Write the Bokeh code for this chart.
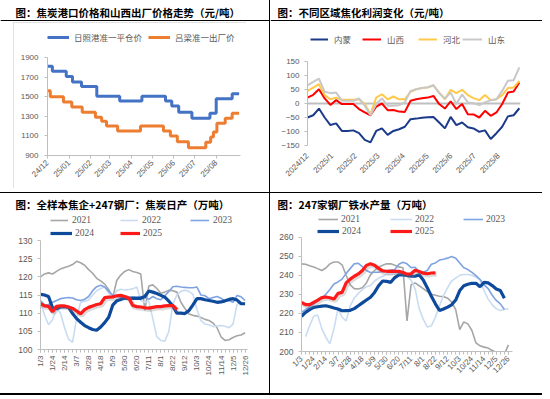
import math
import numpy as np
import pandas as pd
from bokeh.plotting import figure
from bokeh.models import FixedTicker, Legend, LegendItem, Span, Div, ColumnDataSource
from bokeh.layouts import row, column
from bokeh.transform import dodge
from bokeh.core.properties import value
from bokeh.embed import file_html
from bokeh.resources import INLINE

NAN = float("nan")

# ---------------- Chart 1: coke port price & Shanxi ex-factory price ----------------
price_base = "2024-12-01"
rizhao_dates = ["2024-12-01", "2024-12-08", "2024-12-28", "2025-01-06", "2025-01-19",
                "2025-02-10", "2025-03-15", "2025-04-16", "2025-05-20", "2025-05-29",
                "2025-06-08", "2025-06-27", "2025-07-23", "2025-08-01", "2025-08-24",
                "2025-09-03"]
rizhao_price = [1810, 1760, 1705, 1650, 1605, 1505, 1455, 1505, 1455, 1405,
                1340, 1280, 1330, 1480, 1530, 1530]
lvliang_dates = ["2024-12-01", "2024-12-05", "2024-12-24", "2025-01-05", "2025-01-20",
                 "2025-02-08", "2025-02-17", "2025-02-24", "2025-03-12", "2025-04-14",
                 "2025-05-17", "2025-05-27", "2025-06-06", "2025-06-22", "2025-07-17",
                 "2025-07-24", "2025-07-28", "2025-08-02", "2025-08-14", "2025-08-24",
                 "2025-09-03"]
lvliang_price = [1560, 1500, 1445, 1395, 1340, 1290, 1250, 1200, 1150, 1200,
                 1150, 1100, 1040, 980, 1035, 1090, 1140, 1230, 1280, 1330, 1330]
price_tick_dates = ["2024-12-01", "2025-01-01", "2025-02-01", "2025-03-01", "2025-04-01",
                    "2025-05-01", "2025-06-01", "2025-07-01", "2025-08-01"]
price_tick_labels = ["24/12", "25/01", "25/02", "25/03", "25/04", "25/05", "25/06", "25/07", "25/08"]
price_yticks = [900, 1100, 1300, 1500, 1700, 1900]

# ---------------- Chart 2: coking profit by region (weekly) ----------------
profit_neimeng = [-50, -42, -18, -50, -77, -71, -98, -98, -96, -106, -130, -139, -98, -89, -112,
                  -98, -92, -83, -56, -54, -51, -49, -48, -68, -89, -48, -77, -68, -85, -89,
                  -101, -96, -127, -106, -83, -46, -42, -17]
profit_shanxi = [21, 31, 51, 18, -5, 12, -2, -2, -2, -20, -32, -42, -11, 0, -24, -23, -29, -30,
                 10, 15, 19, 21, 27, -2, -18, 8, -20, -2, -38, -39, -50, -26, -44, -32, -2, 39, 43, 75]
profit_hebei = [45, 57, 69, 30, 15, 21, 13, 13, 13, 15, -2, -38, 21, 33, 15, 25, 15, 15, 42, 51,
                55, 57, 65, 39, 15, 49, 37, 49, 30, 19, 12, 30, 12, 15, 30, 55, 57, 81]
profit_shandong = [65, 77, 89, 42, 37, 39, 10, 10, 10, 18, -8, -42, -2, 18, -8, -8, -6, 4, 45, 51,
                   55, 58, 65, 37, 18, 39, -2, 33, 4, 1, -6, 4, 12, 15, 45, 81, 83, 129]
profit_tick_pos = [0, 4.3, 8.4, 12.4, 16.8, 21.0, 25.1, 29.2, 33.4]
profit_tick_labels = ["2024/12", "2025/1", "2025/2", "2025/3", "2025/4", "2025/5", "2025/6",
                      "2025/7", "2025/8"]
profit_yticks = [-150, -100, -50, 0, 50, 100, 150]

# ---------------- Chart 3: coke daily output (weekly, 10k t) ----------------
week_tick_pos = [0, 3, 6, 9, 12, 15, 18, 21, 24, 27, 30, 33, 36, 39, 42, 45, 48, 51]
week_tick_labels = ["1/3", "1/24", "2/14", "3/7", "3/28", "4/18", "5/9", "5/30", "6/20", "7/11",
                    "8/1", "8/22", "9/12", "10/3", "10/24", "11/14", "12/5", "12/26"]
coke_2021 = [120.0, 120.8, 121.1, 120.8, 121.5, 122.2, 122.6, 122.9, 123.4, 124.3,
             123.9, 123.2, 122.0, 121.0, 119.6, 118.9, 118.0, 116.5, 114.3, 119.0,
             120.5, 121.5, 122.0, 121.5, 121.2, 120.8, 110.8, 117.5, 117.8, 116.8,
             115.5, 115.8, 116.3, 116.2, 115.8, 113.0, 111.3, 109.8, 109.4, 109.2,
             108.8, 108.3, 108.0, 107.3, 106.0, 103.5, 102.5, 102.7, 103.3, 103.8,
             104.0, 104.6]
coke_2022 = [113.0, 109.5, 106.8, 108.2, 111.5, 110.0, 106.0, 102.8, 102.0, 108.5,
             113.0, 113.2, 113.6, 115.0, 116.2, 116.8, 117.2, 115.5, 114.2, 116.2,
             116.6, 116.4, 116.5, 116.7, 117.2, 113.5, 113.0, 113.3, 108.5, 103.5,
             102.5, 102.3, 105.0, 112.5, 115.0, 116.0, 116.3, 116.0, 115.2, 111.0,
             108.0, 107.0, 106.8, 106.3, 106.5, 106.6, 106.4, 106.0, 107.0, 112.5,
             113.0, 112.6]
coke_2023 = [113.5, 112.3, 112.4, 113.0, 113.5, 114.0, 114.2, 114.3, 114.2, 113.7,
             113.5, 113.8, 114.6, 116.2, 117.3, 117.7, 117.2, 116.0, 115.0, 114.6,
             114.4, 114.4, 114.3, 114.5, 114.4, 114.6, 114.3, 113.8, 114.6, 114.0,
             113.7, 114.8, 116.0, 117.3, 117.4, 117.2, 117.1, 117.0, 117.0, 117.2,
             115.0, 114.8, 114.0, 114.3, 114.6, 114.1, 113.4, 113.5, 113.0, 114.9,
             114.5, 113.5]
coke_2024 = [115.2, 115.0, 114.6, 111.5, 111.2, 111.7, 111.8, 111.6, 109.9, 108.5,
             107.5, 106.6, 106.0, 105.5, 105.3, 106.2, 107.4, 108.9, 112.2, 113.4,
             113.8, 114.1, 114.1, 114.1, 114.1, 114.1, 114.6, 116.1, 115.8, 115.4,
             114.9, 114.4, 113.3, 112.0, 110.0, 110.0, 109.9, 110.7, 112.3, 114.0,
             114.0, 113.7, 113.5, 113.3, 113.0, 113.1, 113.4, 113.8, 114.0, 113.6,
             112.6, 112.6]
coke_2025 = [112.6, 112.0, 111.9, 110.4, 111.9, 112.0, 112.0, 111.7, 111.3, 110.6,
             109.8, 111.0, 111.6, 112.0, 112.4, 112.6, 114.3, 114.4, 114.5, 114.8,
             114.9, 114.6, 114.2, 112.1, 111.8, 111.7, 111.5, 111.4, 111.6, 111.8,
             111.8, 112.0, 112.1, 112.1, 111.0]
coke_yticks = [100, 105, 110, 115, 120, 125, 130]

# ---------------- Chart 4: hot metal output of 247 mills (weekly, 10k t) ----------------
iron_2021 = [246.0, 245.8, 245.0, 244.4, 243.5, 242.5, 243.8, 246.0, 247.0, 247.0,
             245.5, 240.0, 235.0, 233.0, 232.8, 233.5, 236.0, 240.2, 242.5, 244.4,
             245.3, 246.0, 246.0, 245.3, 244.4, 244.0, 216.0, 235.0, 236.0, 234.5,
             233.0, 231.5, 230.0, 229.5, 229.0, 228.8, 228.0, 226.0, 222.0, 211.5,
             215.5, 214.5, 211.0, 204.5, 203.0, 202.3, 201.8, 200.5, 199.6, 198.0,
             198.5, 203.5]
iron_2022 = [NAN, 207.8, 213.5, 218.5, 219.2, 212.0, 207.5, 204.0, 212.0, 222.5,
             218.0, 216.0, 224.0, 228.0, 230.5, 232.5, 234.0, 234.6, 237.0, 238.5,
             239.5, 240.4, 240.4, 240.6, 241.2, 240.5, 239.5, 237.5, 233.0, 222.5,
             217.0, 212.8, 213.5, 218.0, 224.0, 229.5, 233.5, 237.0, 238.5, 240.0,
             240.4, 240.4, 240.0, 239.0, 237.5, 232.0, 227.5, 224.5, 222.5, 221.5,
             222.0, 222.6]
iron_2023 = [220.5, 222.0, 223.5, 225.0, 226.5, 228.0, 230.0, 232.5, 235.4, 236.5,
             238.0, 241.0, 243.5, 246.0, 246.3, 244.5, 242.5, 241.5, 241.6, 241.6,
             242.0, 242.3, 242.8, 243.0, 245.8, 246.8, 246.0, 244.0, 244.2, 241.8,
             241.6, 242.5, 245.8, 246.5, 248.0, 248.4, 249.0, 249.8, 249.0, 246.5,
             243.9, 243.0, 241.5, 239.8, 237.8, 235.0, 233.0, 229.5, 226.8, 225.0,
             222.0]
iron_2024 = [218.5, 220.5, 222.0, 223.2, 223.5, 223.8, 224.0, 223.5, 222.8, 222.3,
             221.4, 221.5, 221.6, 222.5, 224.0, 225.5, 227.0, 228.5, 231.0, 234.5,
             237.0, 236.8, 236.3, 238.8, 240.2, 240.2, 239.9, 239.6, 239.5, 240.3,
             237.5, 233.5, 229.0, 225.0, 221.5, 222.3, 223.3, 224.5, 227.0, 232.0,
             234.5, 235.3, 235.8, 235.8, 234.0, 236.3, 236.0, 234.6, 232.8, 232.0,
             228.0]
iron_2025 = [225.8, 224.6, 224.6, 225.8, 227.0, 228.3, 228.6, 228.2, 227.5, 230.5,
             231.0, 236.0, 238.0, 239.5, 240.7, 242.5, 245.2, 246.0, 245.3, 243.6,
             242.3, 242.1, 242.0, 242.0, 242.1, 241.5, 240.6, 240.8, 242.6, 242.0,
             241.1, 240.8, 241.2, 241.3]
iron_yticks = [200, 210, 220, 230, 240, 250, 260]

# ---------------- styling ----------------
CJK = "Noto Sans CJK SC"
SANS = "Liberation Sans"
SERIF = "Liberation Serif"
AXIS_GRAY = "#BFBFBF"
LABEL_GRAY = "#595959"

C_2021 = "#A6A6A6"
C_2022 = "#C9DCF2"
C_2023 = "#7FA3E2"
C_2024 = "#0E4A9C"
C_2025 = "#FF1A1A"

W_L, W_R = 269, 272
H_T1, H_C1, H_T2, H_C2 = 21, 171, 19, 181


def strip(w, h, text, tx, ty, line):
    p = figure(width=w, height=h, x_range=(0, w), y_range=(0, h), x_axis_type=None,
               y_axis_type=None, toolbar_location=None, output_backend="svg", title=None,
               min_border=0, frame_align=False)
    p.outline_line_color = None
    p.text(x=[tx], y=[ty], text=[text], text_font=value(CJK), text_font_style="bold",
           text_font_size="10.5px", text_color="#000000", text_baseline="middle",
           text_align="left")
    if line:
        p.add_layout(Span(location=0.75, dimension="width", line_color="#000000", line_width=1.5))
    return p


def bar(w, h):
    return Div(text="", width=w, height=h, margin=0, styles={"background-color": "#000000"})


def chart(w, h, xr, yr, left, right, top, bottom, ybounds, **kw):
    p = figure(width=w, height=h, x_range=xr, y_range=yr, toolbar_location=None,
               output_backend="svg", title=None, frame_align=False,
               min_border_left=left, min_border_right=right,
               min_border_top=top, min_border_bottom=bottom, **kw)
    p.outline_line_color = None
    p.grid.visible = False
    for ax in p.axis:
        ax.axis_line_color = AXIS_GRAY
        ax.major_tick_line_color = AXIS_GRAY
        ax.minor_tick_line_color = AXIS_GRAY
        ax.major_tick_in = 0
        ax.major_tick_out = 3
        ax.minor_tick_in = 0
        ax.minor_tick_out = 0
        ax.major_label_text_font = SANS
        ax.major_label_text_font_size = "8px"
        ax.major_label_text_color = LABEL_GRAY
        ax.major_label_standoff = 4
    p.yaxis.bounds = ybounds
    return p


def add_key(p, r, label, x, y, gw, font, size, standoff=5):
    lg = Legend(items=[LegendItem(label=label, renderers=[r])], location=(x, y),
                orientation="horizontal", glyph_width=gw, glyph_height=10, label_height=10,
                label_standoff=standoff, padding=0, margin=0, spacing=0,
                border_line_color=None, background_fill_alpha=0,
                label_text_font=font, label_text_font_size=size, label_text_color=LABEL_GRAY)
    p.add_layout(lg)


def days(dates):
    base = pd.Timestamp(price_base)
    return [(pd.Timestamp(d) - base).days for d in dates]


# ---------------- Chart 1 (inside a light grey chart box) ----------------
p1 = chart(233, 166, (0, 278), (900, 2165), 34, 6, 9, 33, (900, 1900),
           margin=(1, 23, 4, 13),
           styles={"outline": "1px solid #D9D9D9", "outline-offset": "-1px"})
tick_days = days(price_tick_dates)
p1.xaxis.ticker = FixedTicker(ticks=tick_days)
p1.xaxis.major_label_overrides = {d: l for d, l in zip(tick_days, price_tick_labels)}
p1.xaxis.major_label_orientation = math.pi / 4
p1.xaxis.major_label_standoff = 3
p1.yaxis.ticker = FixedTicker(ticks=price_yticks)
p1.yaxis.major_label_standoff = 6
r_rz = p1.step(days(rizhao_dates), rizhao_price, mode="after", line_color="#4472C4", line_width=3)
r_lv = p1.step(days(lvliang_dates), lvliang_price, mode="after", line_color="#ED7D31", line_width=3)
add_key(p1, r_rz, "日照港准一平仓价", 0, 112, 22, CJK, "8.5px")
add_key(p1, r_lv, "吕梁准一出厂价", 101, 112, 22, CJK, "8.5px")

# ---------------- Chart 2 ----------------
weeks2 = list(range(len(profit_neimeng)))
p2 = chart(W_R, H_C1, (0, 37.2), (-150, 246.4), 37, 22, 13, 47, (-150, 150))
p2.add_layout(Span(location=0, dimension="width", line_color=AXIS_GRAY, line_width=2, level="underlay"))
p2.xaxis.ticker = FixedTicker(ticks=profit_tick_pos)
p2.xaxis.major_label_overrides = {t: l for t, l in zip(profit_tick_pos, profit_tick_labels)}
p2.xaxis.major_label_orientation = math.pi / 4
p2.xaxis.axis_line_color = None
p2.xaxis.major_tick_line_color = None
p2.xaxis.major_label_standoff = 6
p2.yaxis.ticker = FixedTicker(ticks=profit_yticks)
p2.yaxis.major_label_standoff = 5
r_nm = p2.line(weeks2, profit_neimeng, line_color="#1B3A8A", line_width=2)
r_sx = p2.line(weeks2, profit_shanxi, line_color="#FF0000", line_width=2)
r_hb = p2.line(weeks2, profit_hebei, line_color="#FFC94A", line_width=2)
r_sd = p2.line(weeks2, profit_shandong, line_color="#C8C8C8", line_width=2)
add_key(p2, r_nm, "内蒙", 3, 100, 18, CJK, "8.5px", 6)
add_key(p2, r_sx, "山西", 55, 100, 19, CJK, "8.5px", 6)
add_key(p2, r_hb, "河北", 111, 100, 19, CJK, "8.5px", 6)
add_key(p2, r_sd, "山东", 155, 100, 20, CJK, "8.5px", 6)


def weekly(p, series, color, width, shadow=False, span=30.0):
    src = ColumnDataSource(dict(w=list(range(len(series))), v=series))
    if shadow:
        p.line(x=dodge("w", 0.3, range=p.x_range), y=dodge("v", -span * 0.012, range=p.y_range),
               source=src, line_color="#7F7F7F", line_alpha=0.28, line_width=5)
    return p.line("w", "v", source=src, line_color=color, line_width=width)


def week_axis(p, orient):
    p.xaxis.ticker = FixedTicker(ticks=week_tick_pos, minor_ticks=list(range(52)))
    p.xaxis.major_label_overrides = {t: l for t, l in zip(week_tick_pos, week_tick_labels)}
    p.xaxis.major_label_orientation = orient
    p.xaxis.minor_tick_out = 3
    p.xaxis.major_label_standoff = 3


# ---------------- Chart 3 ----------------
p3 = chart(W_L, H_C2, (0, 51.6), (100, 136.9), 40, 22, 3, 44, (100, 130))
week_axis(p3, math.pi / 2)
p3.yaxis.ticker = FixedTicker(ticks=coke_yticks)
p3.yaxis.major_label_text_font_size = "8.5px"
p3.yaxis.major_label_standoff = 5
c21 = weekly(p3, coke_2021, C_2021, 1.6)
c22 = weekly(p3, coke_2022, C_2022, 1.6)
c23 = weekly(p3, coke_2023, C_2023, 1.6)
c24 = weekly(p3, coke_2024, C_2024, 3.2)
c25 = weekly(p3, coke_2025, C_2025, 3.2, shadow=True, span=30.0)
add_key(p3, c21, "2021", 10, 124, 18, SERIF, "9.5px", 4)
add_key(p3, c22, "2022", 80, 124, 18, SERIF, "9.5px", 4)
add_key(p3, c23, "2023", 150, 124, 19, SERIF, "9.5px", 4)
add_key(p3, c24, "2024", 10, 111, 22, SERIF, "9.5px", 3)
add_key(p3, c25, "2025", 80, 111, 20, SERIF, "9.5px", 3)

# ---------------- Chart 4 ----------------
p4 = chart(W_R, H_C2, (0, 52), (200, 271.9), 31, 30, 2, 42, (200, 260))
week_axis(p4, math.pi / 4)
p4.yaxis.ticker = FixedTicker(ticks=iron_yticks)
p4.yaxis.major_label_text_font_size = "8.5px"
p4.yaxis.major_label_standoff = 5
i21 = weekly(p4, iron_2021, C_2021, 1.6)
i22 = weekly(p4, iron_2022, C_2022, 1.6)
i23 = weekly(p4, iron_2023, C_2023, 1.6)
i24 = weekly(p4, iron_2024, C_2024, 3.2)
i25 = weekly(p4, iron_2025, C_2025, 3.2, shadow=True, span=60.0)
add_key(p4, i21, "2021", 17, 127, 20, SERIF, "9.5px", 3)
add_key(p4, i22, "2022", 89, 127, 22, SERIF, "9.5px", 3)
add_key(p4, i23, "2023", 162, 127, 20, SERIF, "9.5px", 3)
add_key(p4, i24, "2024", 16, 115, 22, SERIF, "9.5px", 3)
add_key(p4, i25, "2025", 89, 115, 22, SERIF, "9.5px", 3)

# ---------------- layout ----------------
t1 = strip(W_L, H_T1, "图：焦炭港口价格和山西出厂价格走势（元/吨）", 15, 9, True)
t2 = strip(W_R, H_T1, "图：不同区域焦化利润变化（元/吨）", 7, 9, True)
t3 = strip(W_L, H_T2, "图：全样本焦企+247钢厂：焦炭日产（万吨）", 15, 8, False)
t4 = strip(W_R, H_T2, "图：247家钢厂铁水产量（万吨）", 7, 8, False)

H_ALL = H_T1 + H_C1 + 1 + H_T2 + H_C2 + 2
left = column(t1, p1, bar(W_L, 1), t3, p3, bar(W_L, 2))
right = column(t2, p2, bar(W_R, 1), t4, p4, bar(W_R, 2))
page = row(left, bar(1, H_ALL), right)

open("out.html", "w").write(file_html(page, INLINE))
